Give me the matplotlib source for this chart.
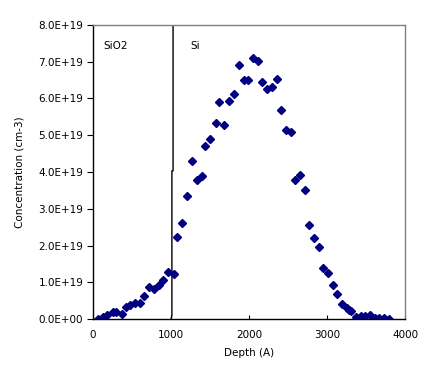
import matplotlib
matplotlib.use('Agg')
import matplotlib.pyplot as plt

# depth (A) and concentration (x1e19 cm-3)
depth = [68, 124, 180, 252, 299, 367, 423, 474, 534, 607, 658, 722, 782, 846, 902, 966,
         1034, 1081, 1145, 1209, 1261, 1327, 1391, 1440, 1504, 1570, 1615, 1683, 1747,
         1799, 1863, 1927, 1983, 2042, 2106, 2158, 2222, 2286, 2350, 2401, 2465, 2529,
         2581, 2645, 2709, 2760, 2824, 2888, 2940, 3004, 3068, 3119, 3183, 3247, 3273,
         3304, 3363, 3427, 3478, 3547, 3606, 3658, 3722, 3786]
conc = [0.00, 0.06, 0.10, 0.18, 0.18, 0.15, 0.34, 0.39, 0.44, 0.44, 0.62, 0.86, 0.81,
        0.92, 1.06, 1.28, 1.22, 2.24, 2.62, 3.34, 4.29, 3.79, 3.90, 4.70, 4.89, 5.33,
        5.90, 5.27, 5.92, 6.11, 6.90, 6.50, 6.50, 7.09, 7.01, 6.44, 6.25, 6.31, 6.52,
        5.68, 5.13, 5.08, 3.77, 3.91, 3.50, 2.55, 2.20, 1.95, 1.38, 1.24, 0.92, 0.67,
        0.40, 0.29, 0.25, 0.21, 0.06, 0.07, 0.07, 0.11, 0.04, 0.04, 0.04, 0.01]
conc = [c * 1e19 for c in conc]

# SiO2 / Si interface line
iface_x = [1000, 1010, 1010, 1025, 1025]
iface_y = [0, 0.1e19, 4.03e19, 4.03e19, 8e19]

xticks = [0, 1000, 2000, 3000, 4000]
yticks = [i * 1e19 for i in range(9)]

fig = plt.figure(figsize=(4.36, 3.83), dpi=100)
ax = fig.add_axes([0.2133, 0.167, 0.7167, 0.768])

ax.plot(iface_x, iface_y, color='black', lw=1.0)
ax.plot(depth, conc, linestyle='none', marker='D', ms=4.2, color='#000080')

ax.set_xlim(0, 4000)
ax.set_ylim(0, 8e19)
ax.set_xticks(xticks)
ax.set_yticks(yticks)
ax.set_yticklabels(['%.1fE+%02d' % (v / 1e19, 19) if v > 0 else '0.0E+00' for v in yticks])

ax.tick_params(axis='x', direction='in', length=3, labelsize=7.5, pad=8, color='black')
ax.tick_params(axis='y', direction='out', length=4, labelsize=7.5, pad=3, color='black')

for side in ['top', 'right']:
    ax.spines[side].set_color('#808080')
for side in ['left', 'bottom']:
    ax.spines[side].set_color('black')
for s in ax.spines.values():
    s.set_linewidth(1.0)

ax.set_xlabel('Depth (A)', fontsize=7.5, labelpad=6)
ax.set_ylabel('Concentration (cm-3)', fontsize=7.5, labelpad=10)

ax.text(130, 7.35e19, 'SiO2', fontsize=7.5)
ax.text(1250, 7.35e19, 'Si', fontsize=7.5)

fig.savefig('out.png', dpi=100)
